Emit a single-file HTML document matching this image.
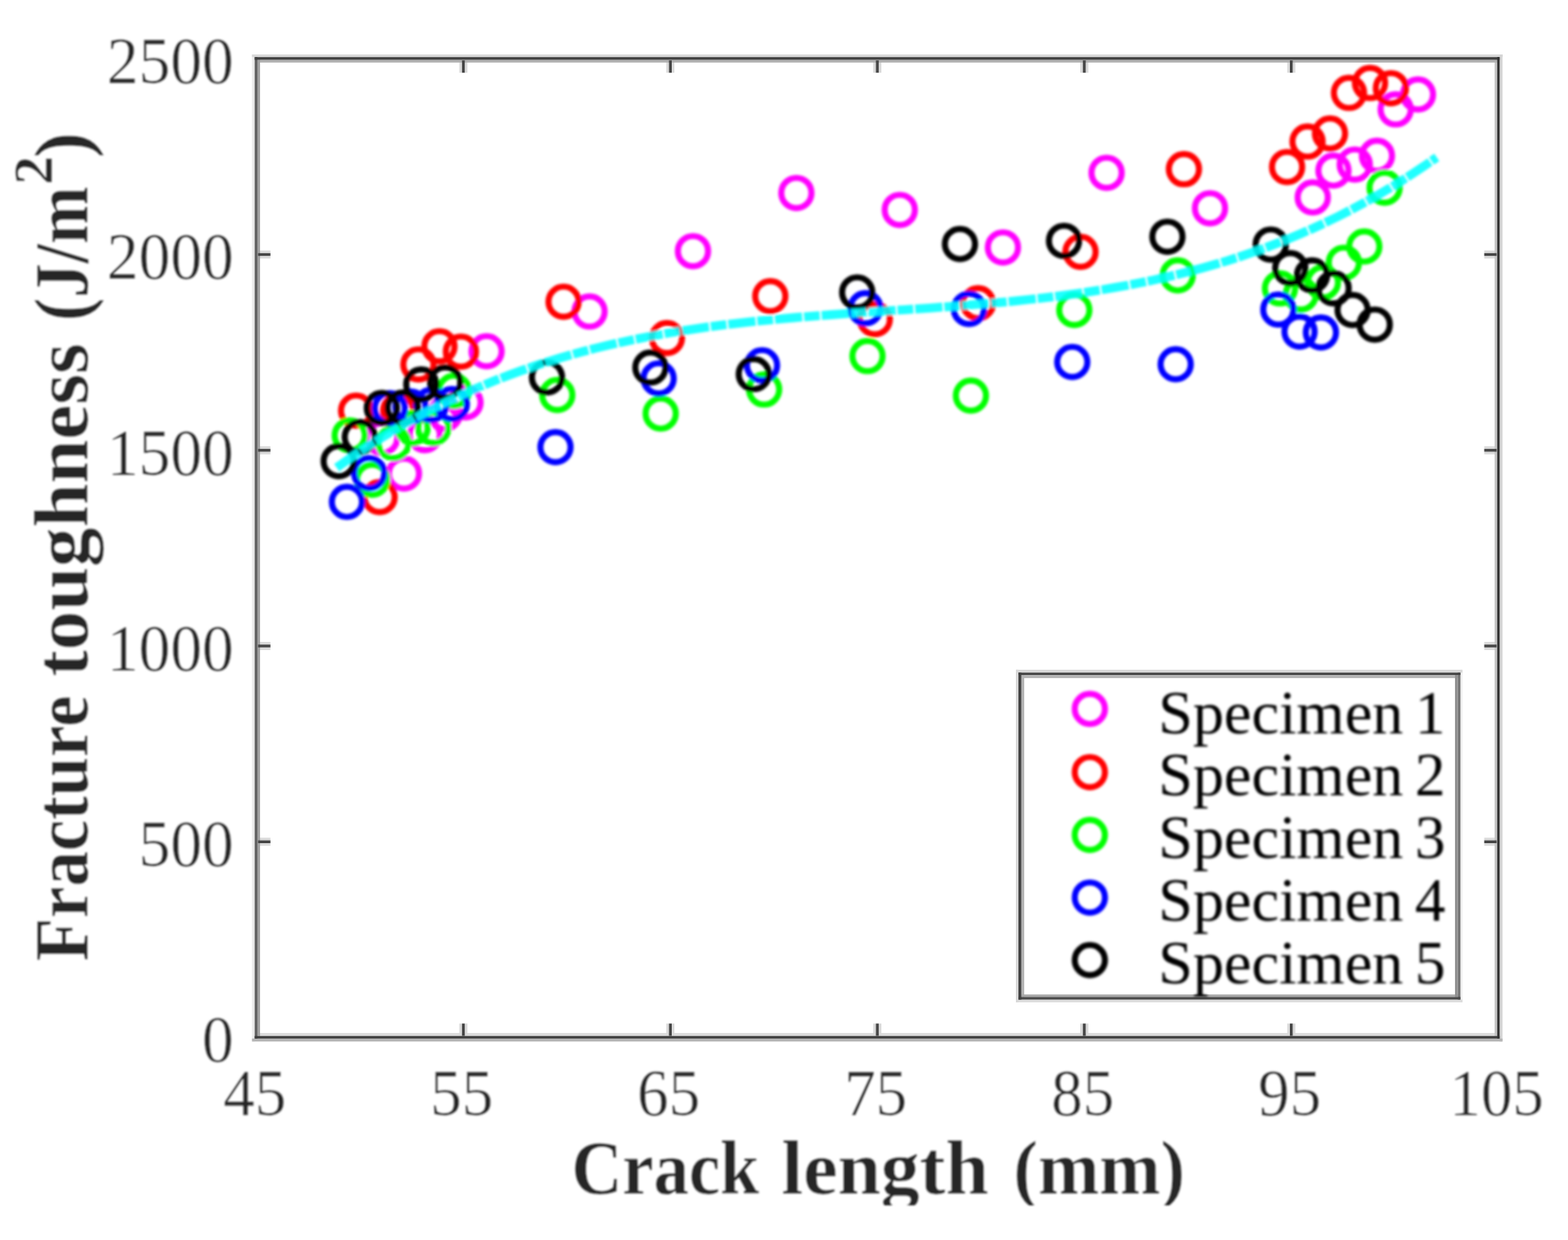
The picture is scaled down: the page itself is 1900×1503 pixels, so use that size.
<!DOCTYPE html>
<html lang="en"><head><meta charset="utf-8"><title>Fracture toughness vs crack length</title>
<style>
html,body{margin:0;padding:0;background:#fff;}
body{width:1900px;height:1503px;overflow:hidden;}
svg{display:block;}
text{font-family:"Liberation Serif","DejaVu Serif",serif;}
.tick{font-size:81px;fill:#262626;stroke:#fff;stroke-width:0.5;}
.lab{font-size:94px;font-weight:bold;fill:#262626;stroke:#fff;stroke-width:0.5;}
.leg{font-size:73px;fill:#000;}
</style></head><body>
<svg width="1900" height="1503" viewBox="0 0 1900 1503">
<defs><filter id="b" x="-2%" y="-2%" width="104%" height="104%"><feGaussianBlur stdDeviation="1.6"/></filter>
<filter id="bt" x="-2%" y="-2%" width="104%" height="104%"><feGaussianBlur stdDeviation="1.1"/></filter>
<filter id="b2" x="-2%" y="-2%" width="104%" height="104%"><feGaussianBlur stdDeviation="0.6"/></filter><clipPath id="xc"><rect x="0" y="0" width="1900" height="1461"/></clipPath></defs>
<rect width="1900" height="1503" fill="#ffffff"/>
<g filter="url(#b)">
<g fill="none" stroke="#ff00ff" stroke-width="7.4">
<circle cx="463.0" cy="531.0" r="18.3"/>
<circle cx="489.5" cy="574.0" r="18.3"/>
<circle cx="514.7" cy="527.5" r="18.3"/>
<circle cx="539.0" cy="501.7" r="18.3"/>
<circle cx="564.1" cy="487.7" r="18.3"/>
<circle cx="589.6" cy="425.7" r="18.3"/>
<circle cx="714.4" cy="377.6" r="18.3"/>
<circle cx="839.7" cy="304.4" r="18.3"/>
<circle cx="965.0" cy="233.9" r="18.3"/>
<circle cx="1090.3" cy="254.4" r="18.3"/>
<circle cx="1215.3" cy="299.9" r="18.3"/>
<circle cx="1340.9" cy="209.4" r="18.3"/>
<circle cx="1466.2" cy="252.4" r="18.3"/>
<circle cx="1590.7" cy="239.3" r="18.3"/>
<circle cx="1615.8" cy="206.8" r="18.3"/>
<circle cx="1641.6" cy="199.4" r="18.3"/>
<circle cx="1668.5" cy="188.8" r="18.3"/>
<circle cx="1691.2" cy="132.6" r="18.3"/>
<circle cx="1718.2" cy="114.5" r="18.3"/>
</g>
<g fill="none" stroke="#ff0000" stroke-width="7.4">
<circle cx="431.5" cy="497.7" r="18.3"/>
<circle cx="460.0" cy="602.5" r="18.3"/>
<circle cx="482.4" cy="497.7" r="18.3"/>
<circle cx="507.0" cy="441.7" r="18.3"/>
<circle cx="532.5" cy="419.7" r="18.3"/>
<circle cx="558.5" cy="426.2" r="18.3"/>
<circle cx="682.9" cy="365.7" r="18.3"/>
<circle cx="808.1" cy="409.7" r="18.3"/>
<circle cx="933.4" cy="359.0" r="18.3"/>
<circle cx="1060.0" cy="387.0" r="18.3"/>
<circle cx="1185.2" cy="367.5" r="18.3"/>
<circle cx="1309.3" cy="305.2" r="18.3"/>
<circle cx="1434.6" cy="205.1" r="18.3"/>
<circle cx="1559.6" cy="202.4" r="18.3"/>
<circle cx="1584.4" cy="171.6" r="18.3"/>
<circle cx="1611.6" cy="161.8" r="18.3"/>
<circle cx="1634.6" cy="112.6" r="18.3"/>
<circle cx="1660.1" cy="100.6" r="18.3"/>
<circle cx="1685.4" cy="106.9" r="18.3"/>
</g>
<g fill="none" stroke="#00ff00" stroke-width="7.4">
<circle cx="423.8" cy="527.7" r="18.3"/>
<circle cx="451.0" cy="581.5" r="18.3"/>
<circle cx="476.8" cy="537.0" r="18.3"/>
<circle cx="499.9" cy="518.7" r="18.3"/>
<circle cx="525.0" cy="518.7" r="18.3"/>
<circle cx="550.1" cy="473.7" r="18.3"/>
<circle cx="675.3" cy="478.7" r="18.3"/>
<circle cx="800.6" cy="501.3" r="18.3"/>
<circle cx="925.9" cy="472.1" r="18.3"/>
<circle cx="1051.2" cy="431.6" r="18.3"/>
<circle cx="1176.5" cy="479.5" r="18.3"/>
<circle cx="1301.8" cy="375.7" r="18.3"/>
<circle cx="1427.1" cy="333.8" r="18.3"/>
<circle cx="1551.0" cy="349.6" r="18.3"/>
<circle cx="1576.2" cy="357.0" r="18.3"/>
<circle cx="1603.0" cy="342.2" r="18.3"/>
<circle cx="1628.4" cy="318.4" r="18.3"/>
<circle cx="1653.2" cy="298.8" r="18.3"/>
<circle cx="1677.8" cy="227.5" r="18.3"/>
</g>
<g fill="none" stroke="#0000ff" stroke-width="7.4">
<circle cx="420.4" cy="608.3" r="18.3"/>
<circle cx="447.4" cy="573.4" r="18.3"/>
<circle cx="472.4" cy="494.7" r="18.3"/>
<circle cx="497.4" cy="492.7" r="18.3"/>
<circle cx="522.5" cy="490.7" r="18.3"/>
<circle cx="547.5" cy="489.7" r="18.3"/>
<circle cx="673.1" cy="542.0" r="18.3"/>
<circle cx="798.1" cy="458.7" r="18.3"/>
<circle cx="923.4" cy="442.7" r="18.3"/>
<circle cx="1048.7" cy="373.6" r="18.3"/>
<circle cx="1174.0" cy="374.4" r="18.3"/>
<circle cx="1299.3" cy="438.7" r="18.3"/>
<circle cx="1424.6" cy="441.5" r="18.3"/>
<circle cx="1549.0" cy="375.2" r="18.3"/>
<circle cx="1574.7" cy="402.0" r="18.3"/>
<circle cx="1600.6" cy="403.0" r="18.3"/>
</g>
<g fill="none" stroke="#000000" stroke-width="7.4">
<circle cx="410.4" cy="559.0" r="18.3"/>
<circle cx="436.0" cy="529.7" r="18.3"/>
<circle cx="462.7" cy="494.4" r="18.3"/>
<circle cx="488.0" cy="494.0" r="18.3"/>
<circle cx="510.5" cy="466.0" r="18.3"/>
<circle cx="539.4" cy="463.6" r="18.3"/>
<circle cx="662.8" cy="457.4" r="18.3"/>
<circle cx="788.1" cy="445.5" r="18.3"/>
<circle cx="913.4" cy="453.5" r="18.3"/>
<circle cx="1038.7" cy="354.4" r="18.3"/>
<circle cx="1163.2" cy="295.8" r="18.3"/>
<circle cx="1289.3" cy="291.9" r="18.3"/>
<circle cx="1414.6" cy="286.9" r="18.3"/>
<circle cx="1539.8" cy="296.4" r="18.3"/>
<circle cx="1563.5" cy="325.0" r="18.3"/>
<circle cx="1589.8" cy="333.8" r="18.3"/>
<circle cx="1616.0" cy="349.4" r="18.3"/>
<circle cx="1639.0" cy="375.8" r="18.3"/>
<circle cx="1665.8" cy="393.4" r="18.3"/>
</g>
<path d="M408.0,566.8 L423.0,556.2 L438.0,546.1 L452.9,536.4 L467.9,527.1 L482.9,518.2 L497.9,509.7 L512.8,501.5 L527.8,493.8 L542.8,486.4 L557.8,479.3 L572.8,472.6 L587.7,466.2 L602.7,460.1 L617.7,454.4 L632.7,448.9 L647.6,443.7 L662.6,438.8 L677.6,434.2 L692.6,429.9 L707.6,425.8 L722.5,421.9 L737.5,418.3 L752.5,414.9 L767.5,411.7 L782.4,408.7 L797.4,405.9 L812.4,403.3 L827.4,400.8 L842.3,398.6 L857.3,396.4 L872.3,394.4 L887.3,392.6 L902.3,390.9 L917.2,389.3 L932.2,387.8 L947.2,386.4 L962.2,385.0 L977.1,383.8 L992.1,382.6 L1007.1,381.5 L1022.1,380.4 L1037.1,379.3 L1052.0,378.3 L1067.0,377.3 L1082.0,376.3 L1097.0,375.3 L1111.9,374.3 L1126.9,373.3 L1141.9,372.2 L1156.9,371.1 L1171.9,369.9 L1186.8,368.7 L1201.8,367.4 L1216.8,366.1 L1231.8,364.6 L1246.7,363.0 L1261.7,361.4 L1276.7,359.6 L1291.7,357.6 L1306.7,355.6 L1321.6,353.3 L1336.6,351.0 L1351.6,348.4 L1366.6,345.7 L1381.5,342.8 L1396.5,339.7 L1411.5,336.3 L1426.5,332.8 L1441.4,329.0 L1456.4,325.0 L1471.4,320.8 L1486.4,316.3 L1501.4,311.5 L1516.3,306.4 L1531.3,301.1 L1546.3,295.4 L1561.3,289.5 L1576.2,283.2 L1591.2,276.7 L1606.2,269.7 L1621.2,262.5 L1636.2,254.8 L1651.1,246.8 L1666.1,238.5 L1681.1,229.7 L1696.1,220.6 L1711.0,211.0 L1726.0,201.1 L1741.0,190.7" fill="none" stroke="#00ffff" stroke-opacity="0.88" stroke-width="10.8" stroke-dasharray="33 2.4 19 2.4"/>
</g>
<g filter="url(#b2)">
<rect x="305.4" y="66.0" width="3.2" height="1196.4" fill="#ebebeb"/>
<rect x="311.9" y="1252.1" width="1502.3" height="3.6" fill="#dcdcdc"/>
<rect x="556.6" y="1240.6" width="3.2" height="15.0" fill="#dadada"/>
<rect x="563.2" y="1240.6" width="3.2" height="15.0" fill="#dadada"/>
<rect x="556.6" y="73.2" width="3.2" height="15.0" fill="#dadada"/>
<rect x="563.2" y="73.2" width="3.2" height="15.0" fill="#dadada"/>
<rect x="807.4" y="1240.6" width="3.2" height="15.0" fill="#dadada"/>
<rect x="814.0" y="1240.6" width="3.2" height="15.0" fill="#dadada"/>
<rect x="807.4" y="73.2" width="3.2" height="15.0" fill="#dadada"/>
<rect x="814.0" y="73.2" width="3.2" height="15.0" fill="#dadada"/>
<rect x="1058.2" y="1240.6" width="3.2" height="15.0" fill="#dadada"/>
<rect x="1064.8" y="1240.6" width="3.2" height="15.0" fill="#dadada"/>
<rect x="1058.2" y="73.2" width="3.2" height="15.0" fill="#dadada"/>
<rect x="1064.8" y="73.2" width="3.2" height="15.0" fill="#dadada"/>
<rect x="1309.0" y="1240.6" width="3.2" height="15.0" fill="#dadada"/>
<rect x="1315.6" y="1240.6" width="3.2" height="15.0" fill="#dadada"/>
<rect x="1309.0" y="73.2" width="3.2" height="15.0" fill="#dadada"/>
<rect x="1315.6" y="73.2" width="3.2" height="15.0" fill="#dadada"/>
<rect x="1559.8" y="1240.6" width="3.2" height="15.0" fill="#dadada"/>
<rect x="1566.4" y="1240.6" width="3.2" height="15.0" fill="#dadada"/>
<rect x="1559.8" y="73.2" width="3.2" height="15.0" fill="#dadada"/>
<rect x="1566.4" y="73.2" width="3.2" height="15.0" fill="#dadada"/>
<rect x="312.7" y="1015.4" width="15.0" height="3.2" fill="#dadada"/>
<rect x="312.7" y="1022.0" width="15.0" height="3.2" fill="#dadada"/>
<rect x="1798.5" y="1015.4" width="15.0" height="3.2" fill="#dadada"/>
<rect x="1798.5" y="1022.0" width="15.0" height="3.2" fill="#dadada"/>
<rect x="312.7" y="778.1" width="15.0" height="3.2" fill="#dadada"/>
<rect x="312.7" y="784.7" width="15.0" height="3.2" fill="#dadada"/>
<rect x="1798.5" y="778.1" width="15.0" height="3.2" fill="#dadada"/>
<rect x="1798.5" y="784.7" width="15.0" height="3.2" fill="#dadada"/>
<rect x="312.7" y="540.9" width="15.0" height="3.2" fill="#dadada"/>
<rect x="312.7" y="547.5" width="15.0" height="3.2" fill="#dadada"/>
<rect x="1798.5" y="540.9" width="15.0" height="3.2" fill="#dadada"/>
<rect x="1798.5" y="547.5" width="15.0" height="3.2" fill="#dadada"/>
<rect x="312.7" y="303.6" width="15.0" height="3.2" fill="#dadada"/>
<rect x="312.7" y="310.2" width="15.0" height="3.2" fill="#dadada"/>
<rect x="1798.5" y="303.6" width="15.0" height="3.2" fill="#dadada"/>
<rect x="1798.5" y="310.2" width="15.0" height="3.2" fill="#dadada"/>
<rect x="305.4" y="66.0" width="1515.2" height="3.2" fill="#d8d8d8"/>
<rect x="1817.2" y="66.0" width="3.4" height="1196.4" fill="#d4d4d4"/>
<rect x="1811.1" y="72.5" width="3.1" height="1183.2" fill="#c4c4c4"/>
<rect x="305.4" y="1258.8" width="1515.2" height="3.6" fill="#b4b4b4"/>
<rect x="311.9" y="72.5" width="1502.3" height="3.3" fill="#b0b0b0"/>
<rect x="311.9" y="72.5" width="3.2" height="1183.2" fill="#a0a0a0"/>
<rect x="308.6" y="69.2" width="3.3" height="1189.6" fill="#606060"/>
<rect x="559.8" y="1240.6" width="3.4" height="15.0" fill="#454545"/>
<rect x="559.8" y="73.2" width="3.4" height="15.0" fill="#454545"/>
<rect x="810.6" y="1240.6" width="3.4" height="15.0" fill="#454545"/>
<rect x="810.6" y="73.2" width="3.4" height="15.0" fill="#454545"/>
<rect x="1061.4" y="1240.6" width="3.4" height="15.0" fill="#454545"/>
<rect x="1061.4" y="73.2" width="3.4" height="15.0" fill="#454545"/>
<rect x="1312.2" y="1240.6" width="3.4" height="15.0" fill="#454545"/>
<rect x="1312.2" y="73.2" width="3.4" height="15.0" fill="#454545"/>
<rect x="1563.0" y="1240.6" width="3.4" height="15.0" fill="#454545"/>
<rect x="1563.0" y="73.2" width="3.4" height="15.0" fill="#454545"/>
<rect x="312.7" y="1018.6" width="15.0" height="3.4" fill="#454545"/>
<rect x="1798.5" y="1018.6" width="15.0" height="3.4" fill="#454545"/>
<rect x="312.7" y="781.3" width="15.0" height="3.4" fill="#454545"/>
<rect x="1798.5" y="781.3" width="15.0" height="3.4" fill="#454545"/>
<rect x="312.7" y="544.1" width="15.0" height="3.4" fill="#454545"/>
<rect x="1798.5" y="544.1" width="15.0" height="3.4" fill="#454545"/>
<rect x="312.7" y="306.8" width="15.0" height="3.4" fill="#454545"/>
<rect x="1798.5" y="306.8" width="15.0" height="3.4" fill="#454545"/>
<rect x="308.6" y="69.2" width="1508.6" height="3.3" fill="#404040"/>
<rect x="308.6" y="1255.7" width="1508.6" height="3.1" fill="#3c3c3c"/>
<rect x="1814.2" y="69.2" width="3.0" height="1189.6" fill="#333333"/>
</g>
<g filter="url(#bt)">
<text class="tick" x="283.2" y="1287.3" text-anchor="end" textLength="38.4" lengthAdjust="spacingAndGlyphs">0</text>
<text class="tick" x="283.2" y="1050.0" text-anchor="end" textLength="115.2" lengthAdjust="spacingAndGlyphs">500</text>
<text class="tick" x="283.2" y="812.7" text-anchor="end" textLength="153.6" lengthAdjust="spacingAndGlyphs">1000</text>
<text class="tick" x="283.2" y="575.5" text-anchor="end" textLength="153.6" lengthAdjust="spacingAndGlyphs">1500</text>
<text class="tick" x="283.2" y="338.2" text-anchor="end" textLength="153.6" lengthAdjust="spacingAndGlyphs">2000</text>
<text class="tick" x="283.2" y="100.9" text-anchor="end" textLength="153.6" lengthAdjust="spacingAndGlyphs">2500</text>
<text class="tick" x="308.7" y="1351.5" text-anchor="middle" textLength="76.4" lengthAdjust="spacingAndGlyphs">45</text>
<text class="tick" x="559.5" y="1351.5" text-anchor="middle" textLength="76.4" lengthAdjust="spacingAndGlyphs">55</text>
<text class="tick" x="810.3" y="1351.5" text-anchor="middle" textLength="76.4" lengthAdjust="spacingAndGlyphs">65</text>
<text class="tick" x="1061.1" y="1351.5" text-anchor="middle" textLength="76.4" lengthAdjust="spacingAndGlyphs">75</text>
<text class="tick" x="1311.9" y="1351.5" text-anchor="middle" textLength="76.4" lengthAdjust="spacingAndGlyphs">85</text>
<text class="tick" x="1562.7" y="1351.5" text-anchor="middle" textLength="76.4" lengthAdjust="spacingAndGlyphs">95</text>
<text class="tick" x="1813.5" y="1351.5" text-anchor="middle" textLength="114.6" lengthAdjust="spacingAndGlyphs">105</text>
<g clip-path="url(#xc)"><text class="lab" y="1446.5"><tspan x="692.5" textLength="227.5" lengthAdjust="spacingAndGlyphs">Crack</tspan> <tspan x="947" textLength="251" lengthAdjust="spacingAndGlyphs">length</tspan> <tspan x="1228" textLength="208" lengthAdjust="spacingAndGlyphs">(mm)</tspan></text></g>
<text class="lab" transform="translate(106,1165) rotate(-90)"><tspan x="0" textLength="322" lengthAdjust="spacingAndGlyphs">Fracture</tspan> <tspan x="345" textLength="404" lengthAdjust="spacingAndGlyphs">toughness</tspan> <tspan x="776" textLength="163" lengthAdjust="spacingAndGlyphs">(J/m</tspan><tspan x="941" font-size="68px" dy="-43" textLength="35" lengthAdjust="spacingAndGlyphs">2</tspan><tspan x="973.5" dy="43">)</tspan></text>
</g>
<rect x="1234" y="815" width="534" height="395" fill="#fff"/>
<g filter="url(#b2)">
<rect x="1769.6" y="811.8" width="2.6" height="403.1" fill="#f0f0f0"/>
<rect x="1231.0" y="1211.6" width="541.2" height="3.3" fill="#dcdcdc"/>
<rect x="1231.0" y="811.8" width="3.1" height="403.1" fill="#d8d8d8"/>
<rect x="1231.0" y="811.8" width="541.2" height="3.5" fill="#d8d8d8"/>
<rect x="1237.6" y="818.1" width="3.5" height="390.3" fill="#b4b4b4"/>
<rect x="1237.6" y="818.1" width="529.0" height="3.8" fill="#b4b4b4"/>
<rect x="1237.6" y="1205.4" width="529.0" height="3.0" fill="#a8a8a8"/>
<rect x="1763.1" y="818.1" width="3.5" height="390.3" fill="#909090"/>
<rect x="1766.6" y="815.3" width="3.0" height="396.3" fill="#707070"/>
<rect x="1234.1" y="1208.4" width="535.5" height="3.2" fill="#484848"/>
<rect x="1234.1" y="815.3" width="3.5" height="396.3" fill="#404040"/>
<rect x="1234.1" y="815.3" width="535.5" height="2.8" fill="#404040"/>
</g>
<g filter="url(#b)">
<circle cx="1320.6" cy="859.3" r="18.3" fill="none" stroke="#ff00ff" stroke-width="7.4"/>
<text class="leg" y="888.5"><tspan x="1403.5" textLength="297" lengthAdjust="spacingAndGlyphs">Specimen</tspan> <tspan x="1714.5" textLength="37" lengthAdjust="spacingAndGlyphs">1</tspan></text>
<circle cx="1320.6" cy="935.9" r="18.3" fill="none" stroke="#ff0000" stroke-width="7.4"/>
<text class="leg" y="964.4"><tspan x="1403.5" textLength="297" lengthAdjust="spacingAndGlyphs">Specimen</tspan> <tspan x="1714.5" textLength="37" lengthAdjust="spacingAndGlyphs">2</tspan></text>
<circle cx="1320.6" cy="1012.0" r="18.3" fill="none" stroke="#00ff00" stroke-width="7.4"/>
<text class="leg" y="1040.0"><tspan x="1403.5" textLength="297" lengthAdjust="spacingAndGlyphs">Specimen</tspan> <tspan x="1714.5" textLength="37" lengthAdjust="spacingAndGlyphs">3</tspan></text>
<circle cx="1320.6" cy="1087.9" r="18.3" fill="none" stroke="#0000ff" stroke-width="7.4"/>
<text class="leg" y="1115.9"><tspan x="1403.5" textLength="297" lengthAdjust="spacingAndGlyphs">Specimen</tspan> <tspan x="1714.5" textLength="37" lengthAdjust="spacingAndGlyphs">4</tspan></text>
<circle cx="1320.6" cy="1163.7" r="18.3" fill="none" stroke="#000000" stroke-width="7.4"/>
<text class="leg" y="1191.5"><tspan x="1403.5" textLength="297" lengthAdjust="spacingAndGlyphs">Specimen</tspan> <tspan x="1714.5" textLength="37" lengthAdjust="spacingAndGlyphs">5</tspan></text>
</g>
</svg>
</body></html>
